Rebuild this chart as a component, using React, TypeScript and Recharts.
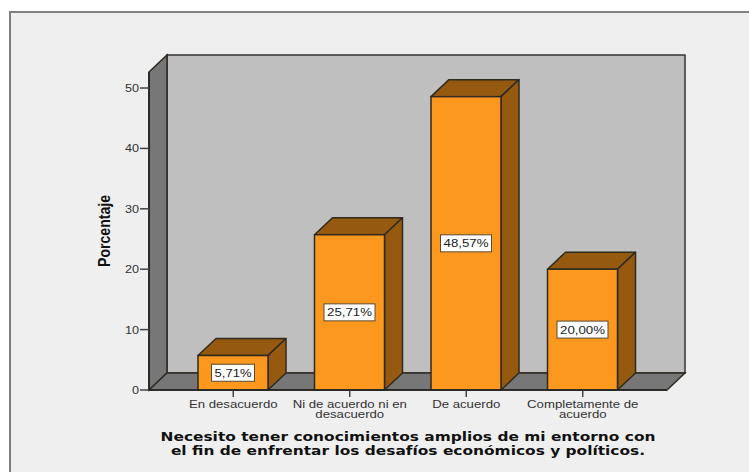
import React from "react";
import { BarChart, Bar, XAxis, YAxis, ReferenceArea, LabelList } from "recharts";

const categories = ["En desacuerdo", "Ni de acuerdo ni en desacuerdo", "De acuerdo", "Completamente de acuerdo"];
const categoryLines: string[][] = [["En desacuerdo"], ["Ni de acuerdo ni en", "desacuerdo"], ["De acuerdo"], ["Completamente de", "acuerdo"]];
const percentages = [5.71, 25.71, 48.57, 20.0];
const yTicks = [0, 10, 20, 30, 40, 50];
const titleLines = ["Necesito tener conocimientos amplios de mi entorno con", "el fin de enfrentar los desafíos económicos y políticos."];
const yLabel = "Porcentaje";

const rows = categories.map((name, i) => ({ name, value: percentages[i], lines: categoryLines[i] }));

const DEPTH_X = 18;
const DEPTH_Y = 17;
const AXIS_PAD = 26;
const OUT = "#2f2a20";
const SANS = "'Liberation Sans', Arial, sans-serif";

function Walls(p: any) {
  const { y, height: h } = p;
  const x = p.x - AXIS_PAD;
  const w = p.width + 2 * AXIS_PAD;
  const b = y + h;
  const r = x + w;
  const dx = DEPTH_X, dy = DEPTH_Y;
  return (
    <g>
      <rect x={x + dx} y={y - dy} width={w} height={h} fill="#BFBFBF" stroke="#333" strokeWidth={1.5} />
      <polygon points={`${x},${y} ${x + dx},${y - dy} ${x + dx},${b - dy} ${x},${b}`} fill="#777" stroke={OUT} strokeWidth={1.5} />
      <polygon points={`${x},${b} ${x + dx},${b - dy} ${r + dx},${b - dy} ${r},${b}`} fill="#777" stroke={OUT} strokeWidth={1.5} />
    </g>
  );
}

function Box(p: any) {
  const { x, y, width: w, height: h } = p;
  const dx = DEPTH_X, dy = DEPTH_Y;
  const r = x + w, b = y + h;
  return (
    <g>
      <polygon points={`${x},${y} ${x + dx},${y - dy} ${r + dx},${y - dy} ${r},${y}`} fill="#955A10" stroke={OUT} strokeWidth={1.5} strokeLinejoin="round" />
      <polygon points={`${r},${y} ${r + dx},${y - dy} ${r + dx},${b - dy} ${r},${b}`} fill="#955A10" stroke={OUT} strokeWidth={1.5} strokeLinejoin="round" />
      <rect x={x} y={y} width={w} height={h} fill="#FC981E" stroke={OUT} strokeWidth={1.5} />
    </g>
  );
}

function BoxLabel(p: any) {
  const { x, y, width: w, height: h, value } = p;
  const text = `${Number(value).toFixed(2).replace(".", ",")}%`;
  const cx = x + w / 2, cy = y + h / 2;
  const bw = text.length * 8 + 3;
  return (
    <g>
      <rect x={cx - bw / 2} y={cy - 8.5} width={bw} height={17} fill="#fff" stroke="#5a4a30" strokeWidth={1} />
      <text x={cx} y={cy + 4} textAnchor="middle" fontFamily={SANS} fontSize={11.5} fill="#222" textLength={bw - 6} lengthAdjust="spacingAndGlyphs">{text}</text>
    </g>
  );
}

function CategoryTick(p: any) {
  const { x, y, index } = p;
  return (
    <text transform={`translate(${x} 0) scale(1.2 1)`} textAnchor="middle" fontFamily={SANS} fontSize={11} fill="#333">
      {categoryLines[index].map((line, i) => (
        <tspan key={i} x={0} y={y + 9 + i * 10}>{line}</tspan>
      ))}
    </text>
  );
}

function ValueTick(p: any) {
  const { x, y, payload } = p;
  return <text transform={`translate(${x + 1} 0) scale(1.15 1)`} x={0} y={y + 4} textAnchor="end" fontFamily={SANS} fontSize={11} fill="#333">{payload.value}</text>;
}

function TitleLabel(p: any) {
  const vb = p.viewBox;
  const cx = vb.x + vb.width / 2;
  return (
    <text transform={`translate(${cx} 0) scale(1.185 1)`} textAnchor="middle" fontFamily="'DejaVu Sans', Verdana, sans-serif" fontWeight={700} fontSize={13} fill="#111">
      {titleLines.map((line, i) => (
        <tspan key={i} x={0} y={441 + i * 14.5}>{line}</tspan>
      ))}
    </text>
  );
}

function AxisTitle(p: any) {
  const vb = p.viewBox;
  const cy = vb.y + vb.height / 2;
  return (
    <text transform={`translate(110 ${cy}) rotate(-90) scale(0.88 1)`} textAnchor="middle" fontFamily={SANS} fontWeight={700} fontSize={16} fill="#111">{yLabel}</text>
  );
}

export default function App() {
  return (
    <div style={{ position: "absolute", left: 0, top: 0, width: 749, height: 472, background: "#fff", overflow: "hidden" }}>
      <div style={{ position: "absolute", left: 9, top: 11, width: 745, height: 470, boxSizing: "border-box", border: "2px solid #808080", background: "#EFEFEF" }} />
      <div style={{ position: "absolute", left: 0, top: 0 }}>
        <BarChart width={749} height={472} data={rows} margin={{ left: 0, right: 82, top: 72, bottom: 0 }} barSize={70}>
          <ReferenceArea y1={0} y2={52.65} shape={<Walls />} ifOverflow="visible" />
          <XAxis
            dataKey="name"
            height={82}
            interval={0}
            padding={{ left: AXIS_PAD, right: AXIS_PAD }}
            axisLine={{ stroke: "#222", strokeWidth: 1.5 }}
            tickLine={{ stroke: "#444", strokeWidth: 1.5 }}
            tickSize={7}
            tick={<CategoryTick />}
            label={<TitleLabel />}
          />
          <YAxis
            domain={[0, 52.65]}
            ticks={yTicks}
            width={149}
            axisLine={{ stroke: "#222", strokeWidth: 1.5 }}
            tickLine={{ stroke: "#444", strokeWidth: 1.5 }}
            tickSize={9}
            tick={<ValueTick />}
            label={<AxisTitle />}
          />
          <Bar dataKey="value" shape={<Box />} isAnimationActive={false}>
            <LabelList dataKey="value" content={<BoxLabel />} />
          </Bar>
        </BarChart>
      </div>
    </div>
  );
}
